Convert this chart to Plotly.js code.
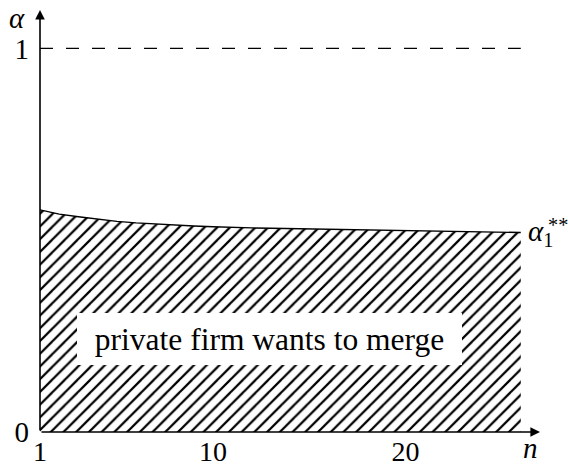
<!DOCTYPE html>
<html>
<head>
<meta charset="utf-8">
<script src="https://cdn.plot.ly/plotly-3.0.1.min.js"></script>
<style>html,body{margin:0;padding:0;background:#fff;}#chart{width:568px;height:467px;}</style>
</head>
<body>
<div id="chart"></div>
<script>
// Data
const nValues = [1, 2, 3, 4, 5, 6, 7, 8, 9, 10, 11, 12, 13, 14, 15, 16, 17, 18, 19, 20, 22, 24, 26];
const alphaThreshold = [0.579, 0.568, 0.561, 0.555, 0.549, 0.545, 0.542, 0.539, 0.537, 0.535, 0.533, 0.532, 0.531, 0.530, 0.529, 0.528, 0.527, 0.526, 0.525, 0.524, 0.523, 0.521, 0.520];
const dashN = [1, 26];
const dashAlpha = [1, 1];
const xTickVals = [1, 10, 20];
const xTickText = ['1', '10', '20'];
const yTickVals = [0, 1];
const yTickText = ['0', '1'];
const regionLabel = 'private firm wants to merge';

const serif = 'Liberation Serif';

const traces = [
  {
    x: nValues, y: alphaThreshold, type: 'scatter', mode: 'lines',
    line: {color: 'black', width: 1.4},
    fill: 'tozeroy',
    fillcolor: 'rgba(255,255,255,0)',
    fillpattern: {shape: '/', size: 9, solidity: 0.25, fgcolor: 'black', bgcolor: 'rgba(255,255,255,0)'},
    hoverinfo: 'skip'
  },
  {
    x: dashN, y: dashAlpha, type: 'scatter', mode: 'lines',
    line: {color: 'black', width: 1.4, dash: '13px,13px'},
    hoverinfo: 'skip'
  }
];

const layout = {
  width: 568, height: 467,
  margin: {l: 40, r: 28, t: 10, b: 35},
  paper_bgcolor: 'white', plot_bgcolor: 'white',
  showlegend: false,
  font: {family: serif, size: 28, color: 'black'},
  xaxis: {
    range: [1, 27], showgrid: false, zeroline: false,
    showline: false,
    tickmode: 'array', tickvals: xTickVals, ticktext: xTickText,
    ticks: '', ticklabelstandoff: 0,
    tickfont: {family: serif, size: 28, color: 'black'}
  },
  yaxis: {
    range: [0, 1.1], showgrid: false, zeroline: false,
    showline: false,
    tickmode: 'array', tickvals: yTickVals, ticktext: yTickText,
    ticks: '', ticklabelstandoff: 10,
    tickfont: {family: serif, size: 29, color: 'black'}
  },
  annotations: [
    // x axis with arrow
    {x: 27, y: 0, ax: 1, ay: 0, xref: 'x', yref: 'y', axref: 'x', ayref: 'y',
     showarrow: true, arrowhead: 2, arrowsize: 1.2, arrowwidth: 1.6, arrowcolor: 'black', text: '', standoff: 0, startstandoff: 0},
    // y axis with arrow
    {x: 1, y: 1.1, ax: 1, ay: 0, xref: 'x', yref: 'y', axref: 'x', ayref: 'y',
     showarrow: true, arrowhead: 2, arrowsize: 1.2, arrowwidth: 1.6, arrowcolor: 'black', text: '', standoff: 0, startstandoff: 0},
    // region label
    {x: 12.93, y: 0.243, xref: 'x', yref: 'y', showarrow: false,
     text: regionLabel, font: {family: serif, size: 31.5, color: 'black'},
     bgcolor: 'white', width: 377, height: 44, borderpad: 4, borderwidth: 0},
    // n label
    {x: 26.5, y: 0, xref: 'x', yref: 'y', yshift: -16, showarrow: false,
     text: '<i>n</i>', font: {family: serif, size: 29, color: 'black'}},
    // curve label
    {x: 26, y: 0.52, xref: 'x', yref: 'y', xanchor: 'left', xshift: 5, showarrow: false,
     text: '<i>α</i><sub>1</sub>', font: {family: serif, size: 29, color: 'black'}},
    {x: 26, y: 0.52, xref: 'x', yref: 'y', xanchor: 'left', xshift: 25, yshift: 8, showarrow: false,
     text: '<sup>**</sup>', font: {family: serif, size: 29, color: 'black'}},
    // alpha axis label
    {x: 1, y: 1.08, xref: 'x', yref: 'y', xanchor: 'right', xshift: -13, showarrow: false,
     text: '<i>α</i>', font: {family: serif, size: 29, color: 'black'}}
  ]
};

Plotly.newPlot('chart', traces, layout, {displayModeBar: false, staticPlot: true});
</script>
</body>
</html>
